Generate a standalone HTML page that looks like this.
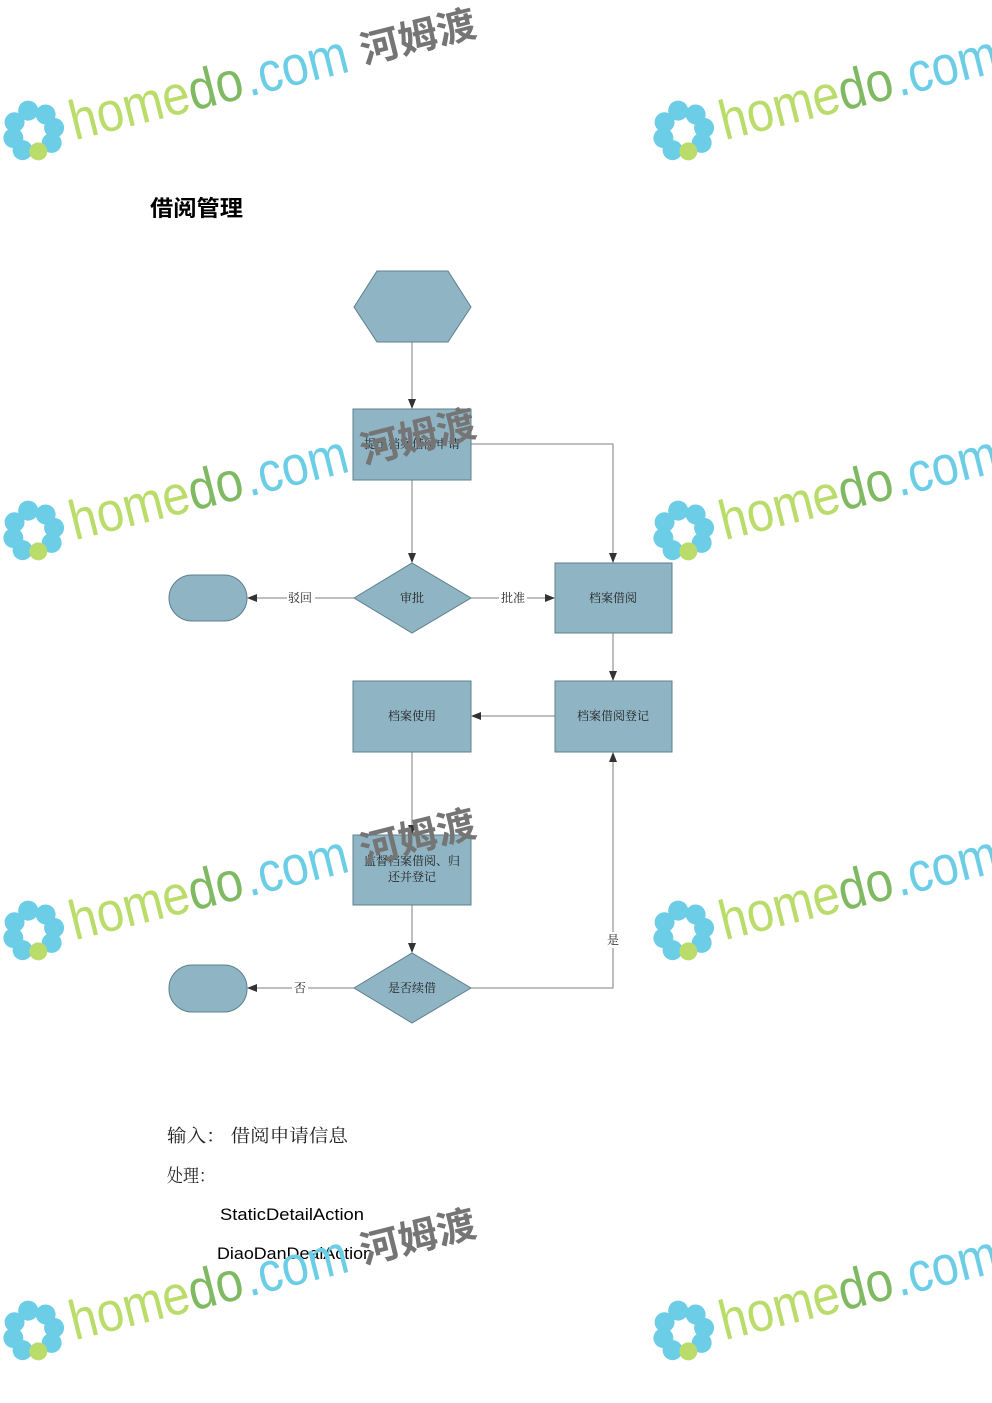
<!DOCTYPE html>
<html><head><meta charset="utf-8"><style>
html,body{margin:0;padding:0;background:#fff;}
svg{display:block;}
</style></head><body>
<svg width="992" height="1403" viewBox="0 0 992 1403" xmlns="http://www.w3.org/2000/svg">
<defs>
<marker id="ar" markerWidth="10" markerHeight="10" refX="9" refY="5" orient="auto" markerUnits="userSpaceOnUse">
<path d="M0,1 L10,5 L0,9 Z" fill="#333"/>
</marker>
</defs>
<text x="150" y="216" font-family="Liberation Sans, Noto Sans CJK SC, sans-serif" font-size="22" font-weight="bold" fill="#000" textLength="93" lengthAdjust="spacingAndGlyphs">借阅管理</text>

<g stroke="#7f7f7f" stroke-width="1" fill="none">
<line x1="412" y1="342" x2="412" y2="408" marker-end="url(#ar)"/>
<line x1="412" y1="480" x2="412" y2="562" marker-end="url(#ar)"/>
<polyline points="471,444 613,444 613,562" marker-end="url(#ar)"/>
<line x1="354" y1="598" x2="248" y2="598" marker-end="url(#ar)"/>
<line x1="471" y1="598" x2="554" y2="598" marker-end="url(#ar)"/>
<line x1="613" y1="633" x2="613" y2="680" marker-end="url(#ar)"/>
<line x1="555" y1="716" x2="472" y2="716" marker-end="url(#ar)"/>
<line x1="412" y1="752" x2="412" y2="834" marker-end="url(#ar)"/>
<line x1="412" y1="905" x2="412" y2="952" marker-end="url(#ar)"/>
<line x1="354" y1="988" x2="248" y2="988" marker-end="url(#ar)"/>
<polyline points="471,988 613,988 613,753" marker-end="url(#ar)"/>
</g>

<g fill="#8fb4c4" stroke="#5f7f8c" stroke-width="1">
<polygon points="354,307 377,271 448,271 471,307 448,342 377,342"/>
<rect x="353" y="409" width="118" height="71"/>
<polygon points="354,598 412,563 471,598 412,633"/>
<rect x="555" y="563" width="117" height="70"/>
<rect x="169" y="575" width="78" height="46" rx="23"/>
<rect x="353" y="681" width="118" height="71"/>
<rect x="555" y="681" width="117" height="71"/>
<rect x="353" y="835" width="118" height="70"/>
<polygon points="354,988 412,953 471,988 412,1023"/>
<rect x="169" y="965" width="78" height="47" rx="23"/>
</g>

<g font-family="Liberation Serif, Noto Serif CJK SC, serif" font-size="12" fill="#222" text-anchor="middle">
<text x="412" y="448">提出档案借阅申请</text>
<text x="412" y="602">审批</text>
<text x="613" y="602">档案借阅</text>
<text x="412" y="720">档案使用</text>
<text x="613" y="720">档案借阅登记</text>
<text x="412" y="865">监督档案借阅、归</text>
<text x="412" y="881">还并登记</text>
<text x="412" y="992">是否续借</text>
<rect x="287" y="590" width="28" height="16" fill="#fff"/>
<text x="300" y="602">驳回</text>
<rect x="499" y="590" width="28" height="16" fill="#fff"/>
<text x="513" y="602">批准</text>
<rect x="292" y="980" width="16" height="16" fill="#fff"/>
<text x="300" y="992">否</text>
<rect x="605" y="932" width="16" height="16" fill="#fff"/>
<text x="613" y="944">是</text>
</g>

<g font-family="Liberation Serif, Noto Serif CJK SC, serif" font-size="18" fill="#222">
<text x="167" y="1142" textLength="181" lengthAdjust="spacingAndGlyphs">输入：&#160;借阅申请信息</text>
<text x="167" y="1182" textLength="48" lengthAdjust="spacingAndGlyphs">处理：</text>
</g>
<g font-family="Liberation Sans, sans-serif" font-size="17" fill="#000">
<text x="220" y="1220" textLength="144" lengthAdjust="spacingAndGlyphs">StaticDetailAction</text>
<text x="217" y="1259" textLength="156" lengthAdjust="spacingAndGlyphs">DiaoDanDealAction</text>
</g>

<!-- watermarks -->
<g font-family="Liberation Sans, sans-serif">
<g transform="translate(33,130) rotate(-14)">
<g fill="#6ccde6"><circle cx="0" cy="-20" r="10"/><circle cx="16" cy="-12" r="10"/><circle cx="21" cy="3" r="10"/><circle cx="15" cy="17" r="10"/><circle cx="-16" cy="-12" r="10"/><circle cx="-21" cy="3" r="10"/><circle cx="-15" cy="17" r="10"/></g>
<circle cx="0" cy="22" r="9" fill="#b9dc6a"/>
<text x="38" y="20" font-size="56" fill="#b9dc6a" textLength="122" lengthAdjust="spacingAndGlyphs">home</text>
<text x="160" y="20" font-size="56" fill="#7fba63" textLength="55" lengthAdjust="spacingAndGlyphs">do</text>
<text x="218" y="20" font-size="56" fill="#6ccde6" textLength="105" lengthAdjust="spacingAndGlyphs">.com</text>
<text x="337" y="16" font-size="38" font-weight="bold" fill="#757575" font-family="Noto Sans CJK SC, sans-serif" textLength="118" lengthAdjust="spacingAndGlyphs">河姆渡</text>
</g>
<g transform="translate(683,130) rotate(-14)">
<g fill="#6ccde6"><circle cx="0" cy="-20" r="10"/><circle cx="16" cy="-12" r="10"/><circle cx="21" cy="3" r="10"/><circle cx="15" cy="17" r="10"/><circle cx="-16" cy="-12" r="10"/><circle cx="-21" cy="3" r="10"/><circle cx="-15" cy="17" r="10"/></g>
<circle cx="0" cy="22" r="9" fill="#b9dc6a"/>
<text x="38" y="20" font-size="56" fill="#b9dc6a" textLength="122" lengthAdjust="spacingAndGlyphs">home</text>
<text x="160" y="20" font-size="56" fill="#7fba63" textLength="55" lengthAdjust="spacingAndGlyphs">do</text>
<text x="218" y="20" font-size="56" fill="#6ccde6" textLength="105" lengthAdjust="spacingAndGlyphs">.com</text>
</g>
<g transform="translate(33,530) rotate(-14)">
<g fill="#6ccde6"><circle cx="0" cy="-20" r="10"/><circle cx="16" cy="-12" r="10"/><circle cx="21" cy="3" r="10"/><circle cx="15" cy="17" r="10"/><circle cx="-16" cy="-12" r="10"/><circle cx="-21" cy="3" r="10"/><circle cx="-15" cy="17" r="10"/></g>
<circle cx="0" cy="22" r="9" fill="#b9dc6a"/>
<text x="38" y="20" font-size="56" fill="#b9dc6a" textLength="122" lengthAdjust="spacingAndGlyphs">home</text>
<text x="160" y="20" font-size="56" fill="#7fba63" textLength="55" lengthAdjust="spacingAndGlyphs">do</text>
<text x="218" y="20" font-size="56" fill="#6ccde6" textLength="105" lengthAdjust="spacingAndGlyphs">.com</text>
<text x="337" y="16" font-size="38" font-weight="bold" fill="#757575" font-family="Noto Sans CJK SC, sans-serif" textLength="118" lengthAdjust="spacingAndGlyphs">河姆渡</text>
</g>
<g transform="translate(683,530) rotate(-14)">
<g fill="#6ccde6"><circle cx="0" cy="-20" r="10"/><circle cx="16" cy="-12" r="10"/><circle cx="21" cy="3" r="10"/><circle cx="15" cy="17" r="10"/><circle cx="-16" cy="-12" r="10"/><circle cx="-21" cy="3" r="10"/><circle cx="-15" cy="17" r="10"/></g>
<circle cx="0" cy="22" r="9" fill="#b9dc6a"/>
<text x="38" y="20" font-size="56" fill="#b9dc6a" textLength="122" lengthAdjust="spacingAndGlyphs">home</text>
<text x="160" y="20" font-size="56" fill="#7fba63" textLength="55" lengthAdjust="spacingAndGlyphs">do</text>
<text x="218" y="20" font-size="56" fill="#6ccde6" textLength="105" lengthAdjust="spacingAndGlyphs">.com</text>
</g>
<g transform="translate(33,930) rotate(-14)">
<g fill="#6ccde6"><circle cx="0" cy="-20" r="10"/><circle cx="16" cy="-12" r="10"/><circle cx="21" cy="3" r="10"/><circle cx="15" cy="17" r="10"/><circle cx="-16" cy="-12" r="10"/><circle cx="-21" cy="3" r="10"/><circle cx="-15" cy="17" r="10"/></g>
<circle cx="0" cy="22" r="9" fill="#b9dc6a"/>
<text x="38" y="20" font-size="56" fill="#b9dc6a" textLength="122" lengthAdjust="spacingAndGlyphs">home</text>
<text x="160" y="20" font-size="56" fill="#7fba63" textLength="55" lengthAdjust="spacingAndGlyphs">do</text>
<text x="218" y="20" font-size="56" fill="#6ccde6" textLength="105" lengthAdjust="spacingAndGlyphs">.com</text>
<text x="337" y="16" font-size="38" font-weight="bold" fill="#757575" font-family="Noto Sans CJK SC, sans-serif" textLength="118" lengthAdjust="spacingAndGlyphs">河姆渡</text>
</g>
<g transform="translate(683,930) rotate(-14)">
<g fill="#6ccde6"><circle cx="0" cy="-20" r="10"/><circle cx="16" cy="-12" r="10"/><circle cx="21" cy="3" r="10"/><circle cx="15" cy="17" r="10"/><circle cx="-16" cy="-12" r="10"/><circle cx="-21" cy="3" r="10"/><circle cx="-15" cy="17" r="10"/></g>
<circle cx="0" cy="22" r="9" fill="#b9dc6a"/>
<text x="38" y="20" font-size="56" fill="#b9dc6a" textLength="122" lengthAdjust="spacingAndGlyphs">home</text>
<text x="160" y="20" font-size="56" fill="#7fba63" textLength="55" lengthAdjust="spacingAndGlyphs">do</text>
<text x="218" y="20" font-size="56" fill="#6ccde6" textLength="105" lengthAdjust="spacingAndGlyphs">.com</text>
</g>
<g transform="translate(33,1330) rotate(-14)">
<g fill="#6ccde6"><circle cx="0" cy="-20" r="10"/><circle cx="16" cy="-12" r="10"/><circle cx="21" cy="3" r="10"/><circle cx="15" cy="17" r="10"/><circle cx="-16" cy="-12" r="10"/><circle cx="-21" cy="3" r="10"/><circle cx="-15" cy="17" r="10"/></g>
<circle cx="0" cy="22" r="9" fill="#b9dc6a"/>
<text x="38" y="20" font-size="56" fill="#b9dc6a" textLength="122" lengthAdjust="spacingAndGlyphs">home</text>
<text x="160" y="20" font-size="56" fill="#7fba63" textLength="55" lengthAdjust="spacingAndGlyphs">do</text>
<text x="218" y="20" font-size="56" fill="#6ccde6" textLength="105" lengthAdjust="spacingAndGlyphs">.com</text>
<text x="337" y="16" font-size="38" font-weight="bold" fill="#757575" font-family="Noto Sans CJK SC, sans-serif" textLength="118" lengthAdjust="spacingAndGlyphs">河姆渡</text>
</g>
<g transform="translate(683,1330) rotate(-14)">
<g fill="#6ccde6"><circle cx="0" cy="-20" r="10"/><circle cx="16" cy="-12" r="10"/><circle cx="21" cy="3" r="10"/><circle cx="15" cy="17" r="10"/><circle cx="-16" cy="-12" r="10"/><circle cx="-21" cy="3" r="10"/><circle cx="-15" cy="17" r="10"/></g>
<circle cx="0" cy="22" r="9" fill="#b9dc6a"/>
<text x="38" y="20" font-size="56" fill="#b9dc6a" textLength="122" lengthAdjust="spacingAndGlyphs">home</text>
<text x="160" y="20" font-size="56" fill="#7fba63" textLength="55" lengthAdjust="spacingAndGlyphs">do</text>
<text x="218" y="20" font-size="56" fill="#6ccde6" textLength="105" lengthAdjust="spacingAndGlyphs">.com</text>
</g>
</g>
</svg>
</body></html>
